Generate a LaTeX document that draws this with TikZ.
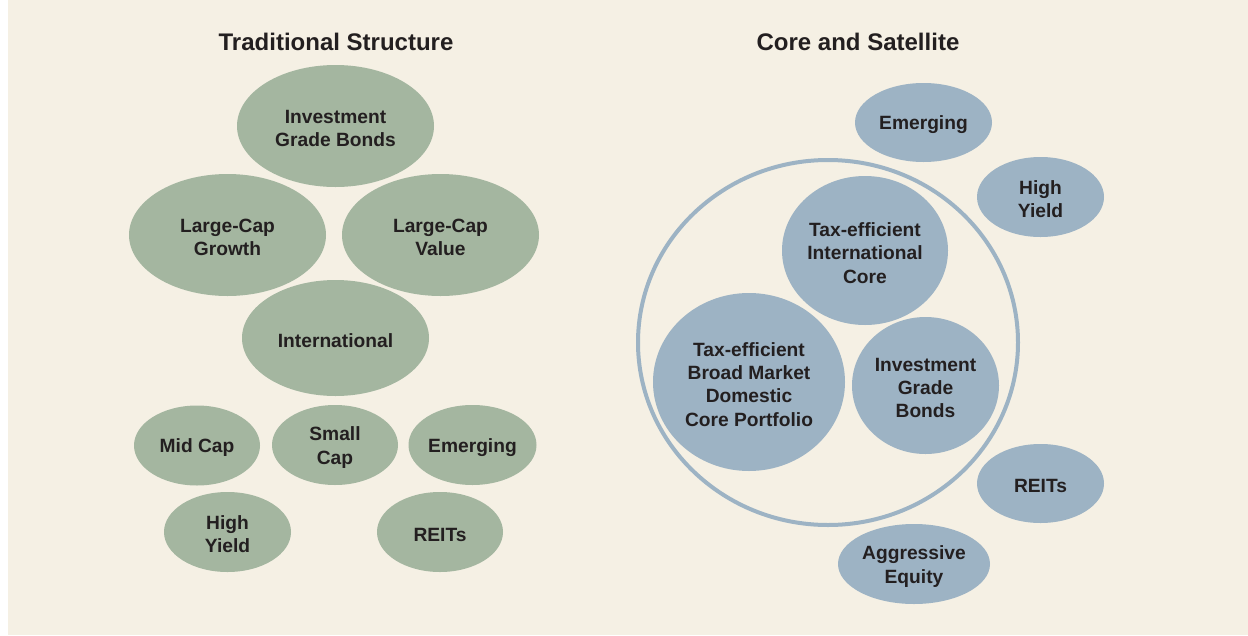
\documentclass[tikz,border=0pt]{standalone}
\usepackage{fontspec}
\setmainfont{Liberation Sans}
\usetikzlibrary{shapes.geometric}
\definecolor{bg}{HTML}{F5F0E4}
\definecolor{grn}{HTML}{A4B6A0}
\definecolor{blu}{HTML}{9DB3C4}
\definecolor{txt}{HTML}{231F20}
\tikzset{
  blob/.style={ellipse, inner sep=0pt, draw=none},
  gblob/.style={blob, fill=grn},
  bblob/.style={blob, fill=blu},
  lbl/.style={text=txt, font=\fontsize{19.2}{23.2}\selectfont\bfseries, align=center, inner sep=0pt, yshift=-2.5pt},
  ttl/.style={text=txt, font=\fontsize{24}{28}\selectfont\bfseries, inner sep=0pt},
}
\newcommand{\blob}[6]{%
  \node[#1, minimum width=#4pt, minimum height=#5pt] (#2) at (#3) {};
  \node[lbl] at (#2.center) {#6};}
\begin{document}
\begin{tikzpicture}[x=1pt,y=-1pt]
\useasboundingbox (0,0) rectangle (1248,635);
\fill[white] (0,0) rectangle (1248,635);
\fill[bg] (8,0) rectangle (1248,635);
% titles
\node[ttl] (t1) at (336,42) {Traditional Structure};
\node[ttl] (t2) at (858,42) {Core and Satellite};
% left
\blob{gblob}{igb}{335.5,126}{197}{122}{Investment\\Grade Bonds}
\blob{gblob}{lcg}{227.5,235}{197}{122}{Large-Cap\\Growth}
\blob{gblob}{lcv}{440.5,235}{197}{122}{Large-Cap\\Value}
\blob{gblob}{intl}{335.5,338}{187}{116}{International}
\blob{gblob}{mid}{197,445.5}{126}{80}{Mid Cap}
\blob{gblob}{small}{335,445}{126}{80}{Small\\Cap}
\blob{gblob}{emg}{472.5,445}{128}{80}{Emerging}
\blob{gblob}{hy}{227.5,532}{127}{80}{High\\Yield}
\blob{gblob}{reit}{440,532}{126}{80}{REITs}
% right
\node[ellipse, draw=blu, line width=4pt, minimum width=380pt, minimum height=365pt, inner sep=0pt] (core) at (828,342.5) {};
\blob{bblob}{remg}{923.5,122.5}{137}{79}{Emerging}
\blob{bblob}{rhy}{1040.5,197}{127}{80}{High\\Yield}
\blob{bblob}{tic}{865,250.5}{166}{149}{Tax-efficient\\International\\Core}
\blob{bblob}{tbm}{749,382}{192}{178}{Tax-efficient\\Broad Market\\Domestic\\Core Portfolio}
\blob{bblob}{rigb}{925.5,385.5}{147}{137}{Investment\\Grade\\Bonds}
\blob{bblob}{rreit}{1040.5,483.5}{127}{79}{REITs}
\blob{bblob}{agg}{914,564}{152}{80}{Aggressive\\Equity}
\end{tikzpicture}
\end{document}
